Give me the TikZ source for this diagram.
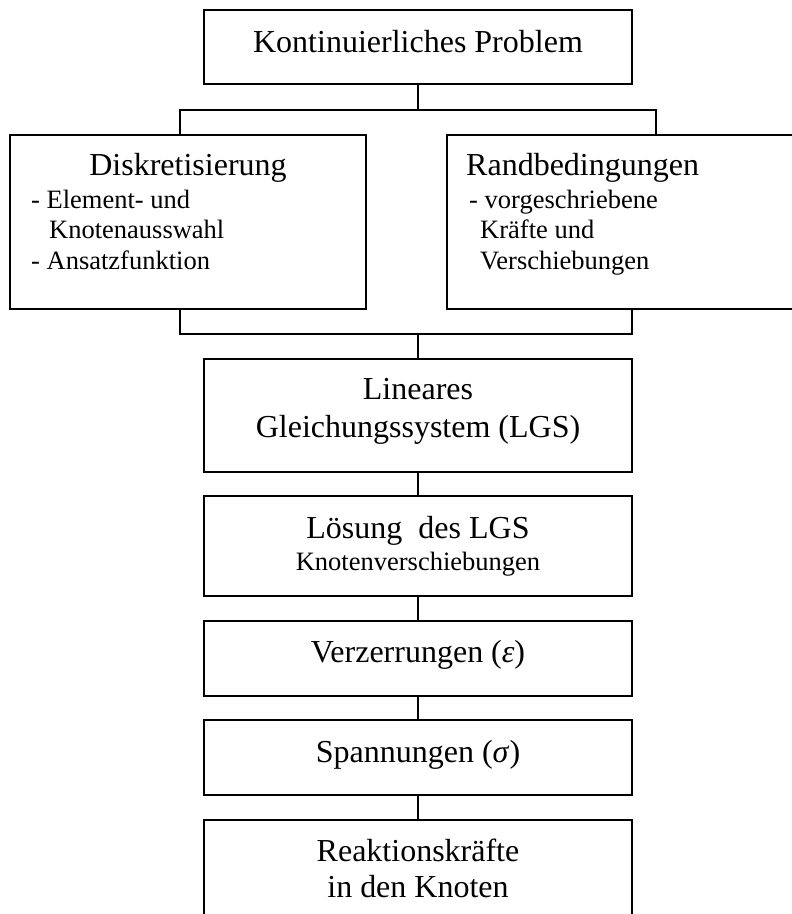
\documentclass[tikz,border=0pt]{standalone}
\usepackage{fontspec}
\setmainfont{Liberation Serif}
\begin{document}
\begin{tikzpicture}[x=1pt,y=-1pt,
  box/.style={draw, line width=1.5pt, inner sep=0pt, rectangle},
  link/.style={line width=1.3pt},
  big/.style={font=\fontsize{32}{37}\selectfont, inner sep=0pt, anchor=base},
  bigl/.style={font=\fontsize{32}{37}\selectfont, inner sep=0pt, anchor=base west},
  small/.style={font=\fontsize{26.5}{30.5}\selectfont, inner sep=0pt, anchor=base},
  smalll/.style={font=\fontsize{26.5}{30.5}\selectfont, inner sep=0pt, anchor=base west}]
\clip (0,0) rectangle (792,914);
\fill[white] (0,0) rectangle (792,914);
% boxes
\node[box, minimum width=428pt, minimum height=74pt] (top) at (418,47) {};
\node[box, minimum width=356pt, minimum height=174pt] (left) at (188,222) {};
\node[box, minimum width=356pt, minimum height=174pt] (right) at (625,222) {};
\node[box, minimum width=428pt, minimum height=113pt] (lgs) at (418,415.5) {};
\node[box, minimum width=428pt, minimum height=100pt] (loes) at (418,546) {};
\node[box, minimum width=428pt, minimum height=75pt] (verz) at (418,658.5) {};
\node[box, minimum width=428pt, minimum height=75pt] (span) at (418,757.5) {};
\node[box, minimum width=428pt, minimum height=113pt] (reak) at (418,876.5) {};
% texts
\node[big] (t0) at (418,52) {Kontinuierliches Problem};
\node[big] (t1) at (188,175) {Diskretisierung};
\node[smalll] (t1a) at (31,208) {- Element- und};
\node[smalll] (t1b) at (49,238) {Knotenausswahl};
\node[smalll] (t1c) at (31,269) {- Ansatzfunktion};
\node[bigl] (t2) at (466,175) {Randbedingungen};
\node[smalll] (t2a) at (469,208) {- vorgeschriebene};
\node[smalll] (t2b) at (480,238) {Kräfte und};
\node[smalll] (t2c) at (480,269) {Verschiebungen};
\node[big] (t3a) at (418,399) {Lineares};
\node[big] (t3b) at (418,437) {Gleichungssystem (LGS)};
\node[big] (t4a) at (418,538) {Lösung\ \ des LGS};
\node[small] (t4b) at (418,570) {Knotenverschiebungen};
\node[big] (t5) at (418,662) {Verzerrungen (\textit{ε})};
\node[big] (t6) at (418,762) {Spannungen (\textit{σ})};
\node[big] (t7a) at (418,861) {Reaktionskräfte};
\node[big] (t7b) at (418,897) {in den Knoten};
% connectors
\coordinate (jl) at (180,110);
\coordinate (jr) at (656,110);
\coordinate (jc) at (418,110);
\draw[link] (top.south) -- (jc);
\draw[link] (jl |- left.north) -- (jl) -- (jr) -- (jr |- right.north);
\coordinate (kl) at (180,334);
\coordinate (kr) at (632,334);
\coordinate (kc) at (418,334);
\draw[link] (kl |- left.south) -- (kl) -- (kr) -- (kr |- right.south);
\draw[link] (kc) -- (lgs.north);
\draw[link] (lgs.south) -- (loes.north);
\draw[link] (loes.south) -- (verz.north);
\draw[link] (verz.south) -- (span.north);
\draw[link] (span.south) -- (reak.north);
\end{tikzpicture}
\end{document}
